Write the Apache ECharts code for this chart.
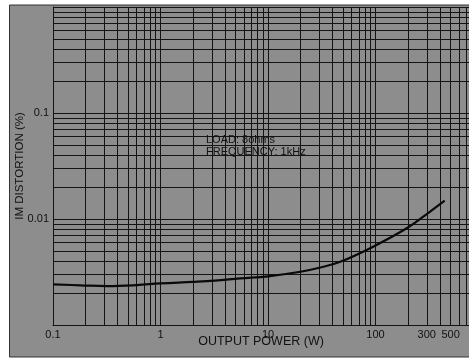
<!DOCTYPE html>
<html><head><meta charset="utf-8">
<script src="https://cdn.jsdelivr.net/npm/echarts@6/dist/echarts.min.js"></script>
<style>html,body{margin:0;padding:0;background:#fff}#c{width:469px;height:361px}</style>
</head><body><div id="c"></div>
<script>
// Output power (W) and IM distortion (%)
const powerW = [0.1, 0.18, 0.32, 0.6, 1, 2, 3.2, 5.5, 10, 20, 30, 47, 95, 195, 320, 440];
const imdPct = [0.00242, 0.00237, 0.00233, 0.00238, 0.00247, 0.00255, 0.00262, 0.00275, 0.00288, 0.00318, 0.00347, 0.00395, 0.00548, 0.00817, 0.0117, 0.0149];

const xGridValues = [0.1,0.2,0.3,0.4,0.5,0.6,0.7,0.8,0.9,1,2,3,4,5,6,7,8,9,10,20,30,40,50,60,70,80,90,100,200,300,400,500,600,700];
const yGridValues = [0.001,0.002,0.003,0.004,0.005,0.006,0.007,0.008,0.009,0.01,0.02,0.03,0.04,0.05,0.06,0.07,0.08,0.09,0.1,0.2,0.3,0.4,0.5,0.6,0.7,0.8,0.9,1];
const xTickLabels = [0.1, 1, 10, 100, 300, 500];
const xTickText = ['0.1', '1', '10', '100', '300', '500'];
const yTickLabels = [0.01, 0.1];
const yTickText = ['0.01', '0.1'];

const chart = echarts.init(document.getElementById('c'), null, {renderer: 'canvas'});
const lineCol = '#141414';
const fontNarrow = '"Liberation Sans Narrow", "Liberation Sans", Arial, sans-serif';
function fmt(vals, texts) {
  return function (v) {
    for (let i = 0; i < vals.length; i++) if (Math.abs(v - vals[i]) / vals[i] < 1e-6) return texts[i];
    return '';
  };
}
chart.setOption({
  backgroundColor: '#ffffff',
  animation: false,
  graphic: [
    {type: 'rect', z: -10, silent: true, shape: {x: 9.5, y: 5, width: 470, height: 352},
     style: {fill: '#8d8d8d', stroke: '#333', lineWidth: 1}},
    {type: 'text', left: 206, top: 134, z: 10,
     style: {text: 'LOAD: 8ohms\nFREQUENCY: 1kHz', fill: '#111', font: '11px "Liberation Sans", Arial, sans-serif', lineHeight: 12}}
  ],
  grid: {left: 53, right: 0, top: 7, bottom: 36, containLabel: false},
  xAxis: {
    type: 'log', logBase: 10, min: 0.1, max: 741,
    name: 'OUTPUT POWER (W)', nameLocation: 'middle', nameGap: 10, nameMoveOverlap: false,
    nameTextStyle: {color: '#111', fontSize: 12.5, fontFamily: '"Liberation Sans", Arial, sans-serif'},
    axisLine: {show: true, lineStyle: {color: lineCol, width: 1}},
    axisTick: {show: false, customValues: xGridValues},
    axisLabel: {customValues: xTickLabels, formatter: fmt(xTickLabels, xTickText), color: '#111', fontSize: 11, fontFamily: fontNarrow, margin: 4},
    splitLine: {show: true, lineStyle: {color: lineCol, width: 1}}
  },
  yAxis: {
    type: 'log', logBase: 10, min: 0.001, max: 1,
    name: 'IM DISTORTION (%)', nameLocation: 'middle', nameGap: 27, nameMoveOverlap: false,
    nameTextStyle: {color: '#111', fontSize: 11.5, fontFamily: '"Liberation Sans", Arial, sans-serif'},
    axisLine: {show: true, lineStyle: {color: lineCol, width: 1}},
    axisTick: {show: false, customValues: yGridValues},
    axisLabel: {customValues: yTickLabels, formatter: fmt(yTickLabels, yTickText), color: '#111', fontSize: 11, fontFamily: fontNarrow, margin: 4, padding: [0, 0, 8, 0]},
    splitLine: {show: true, lineStyle: {color: lineCol, width: 1}}
  },
  series: [{
    type: 'line', smooth: 0.4, symbol: 'none',
    data: powerW.map((p, i) => [p, imdPct[i]]),
    lineStyle: {color: '#0a0a0a', width: 2.2}, z: 5
  }]
});
</script></body></html>
